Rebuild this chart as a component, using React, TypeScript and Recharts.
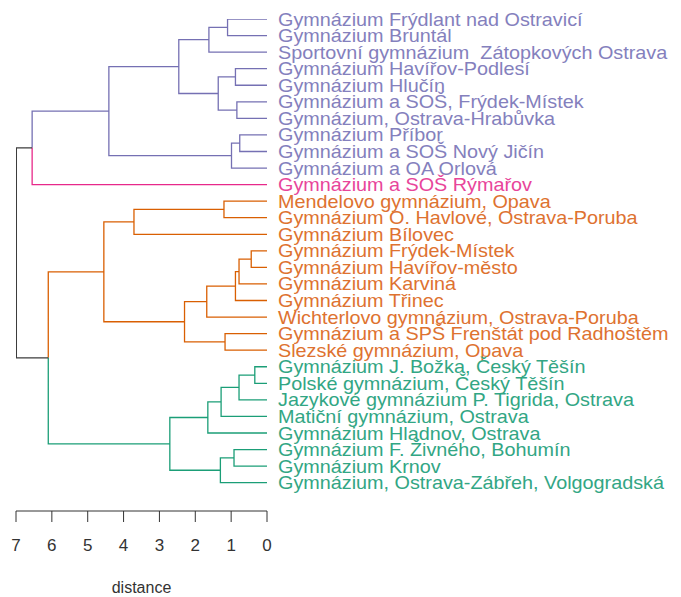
import { ComposedChart, Line, XAxis, YAxis } from "recharts"

const leafNames = [
  "Gymnázium Frýdlant nad Ostravicí",
  "Gymnázium Bruntál",
  "Sportovní gymnázium  Zátopkových Ostrava",
  "Gymnázium Havířov-Podlesí",
  "Gymnázium Hlučín",
  "Gymnázium a SOŠ, Frýdek-Místek",
  "Gymnázium, Ostrava-Hrabůvka",
  "Gymnázium Příbor",
  "Gymnázium a SOŠ Nový Jičín",
  "Gymnázium a OA Orlová",
  "Gymnázium a SOŠ Rýmařov",
  "Mendelovo gymnázium, Opava",
  "Gymnázium O. Havlové, Ostrava-Poruba",
  "Gymnázium Bílovec",
  "Gymnázium Frýdek-Místek",
  "Gymnázium Havířov-město",
  "Gymnázium Karviná",
  "Gymnázium Třinec",
  "Wichterlovo gymnázium, Ostrava-Poruba",
  "Gymnázium a SPŠ Frenštát pod Radhoštěm",
  "Slezské gymnázium, Opava",
  "Gymnázium J. Božka, Český Těšín",
  "Polské gymnázium, Český Těšín",
  "Jazykové gymnázium P. Tigrida, Ostrava",
  "Matiční gymnázium, Ostrava",
  "Gymnázium Hladnov, Ostrava",
  "Gymnázium F. Živného, Bohumín",
  "Gymnázium Krnov",
  "Gymnázium, Ostrava-Zábřeh, Volgogradská",
]

// cluster of each leaf: 0 purple, 1 pink, 2 orange, 3 green
const leafGroups = [0, 0, 0, 0, 0, 0, 0, 0, 0, 0, 1, 2, 2, 2, 2, 2, 2, 2, 2, 2, 2, 3, 3, 3, 3, 3, 3, 3, 3]

const lineColors = ["#7570B3", "#E7298A", "#D95F02", "#1B9E77"]
const labelColors = ["#8480BD", "#E8459A", "#DE7230", "#32A684"]
const rootColor = "#3c3c3c"

// hclust style: negative = leaf (1-based), positive = earlier merge (1-based)
const mergeLeft = [-1, 1, -4, -6, 3, 2, -8, 7, 6, 9, -12, 11, -15, 13, 14, 15, -20, 16, 12, -22, 20, 21, 22, -27, 24, 23, 19, 10]
const mergeRight = [-2, -3, -5, -7, 4, 5, -9, -10, 8, -11, -13, -14, -16, -17, -18, -19, -21, 17, 18, -23, -24, -25, -26, -28, -29, 25, 26, 27]
const mergeHeight = [
  1.1, 1.62, 0.88, 0.84, 1.36, 2.46, 0.76, 0.99, 4.41, 6.55,
  1.2, 3.71, 0.44, 0.78, 0.88, 1.68, 1.17, 2.3, 4.55,
  0.34, 0.78, 1.28, 1.65, 0.92, 1.3, 2.71, 6.1, 6.99,
]

const distanceTicks = [0, 1, 2, 3, 4, 5, 6, 7]

type Node = { h: number; y: number; group: number }
type Pt = { x: number; y: number | null }

const nodes: Node[] = []
const series: Pt[][] = [[], [], [], [], []] // last one = root (mixed)

const pick = (id: number): Node =>
  id < 0 ? { h: 0, y: -id - 1, group: leafGroups[-id - 1] } : nodes[id - 1]

mergeLeft.forEach((l, k) => {
  const a = pick(l)
  const b = pick(mergeRight[k])
  const h = mergeHeight[k]
  const y = (a.y + b.y) / 2
  for (const c of [a, b]) {
    const s = series[c.group < 0 ? 4 : c.group]
    s.push({ x: h, y }, { x: h, y: c.y }, { x: c.h, y: c.y }, { x: c.h, y: null })
  }
  nodes.push({ h, y, group: a.group === b.group ? a.group : -1 })
})

const font = "'Liberation Sans', Arial, sans-serif"

function LeafLabel(props: any) {
  const { x, y, payload } = props
  const i = payload.value as number
  return (
    <text
      transform={`translate(${x},${y + 6.5}) scale(1.1,1)`}
      fill={labelColors[leafGroups[i]]}
      fontSize={18}
      fontFamily={font}
      style={{ whiteSpace: "pre" }}
    >
      {leafNames[i]}
    </text>
  )
}

export default function App() {
  return (
    <div style={{ width: 673, height: 589 }}>
      <ComposedChart width={673} height={589} margin={{ top: 11, right: 0, bottom: 0, left: 8 }}>
        <XAxis
          type="number"
          dataKey="x"
          domain={[0, 7]}
          reversed
          allowDataOverflow
          ticks={distanceTicks}
          height={86}
          tickSize={11}
          tickMargin={17}
          stroke="#333"
          tick={{ fill: "#333", fontSize: 17, fontFamily: font }}
          label={{ value: "distance", position: "insideBottom", offset: 4, fill: "#333", fontSize: 16, fontFamily: font }}
        />
        <YAxis
          type="number"
          orientation="right"
          domain={[0, 29.71]}
          reversed
          allowDataOverflow
          ticks={leafNames.map((_, i) => i)}
          interval={0}
          width={414}
          tickSize={0}
          tickMargin={11}
          axisLine={false}
          tickLine={false}
          tick={<LeafLabel />}
        />
        {series.map((pts, g) => (
          <Line
            key={g}
            data={pts}
            dataKey="y"
            type="linear"
            stroke={g === 4 ? rootColor : lineColors[g]}
            strokeWidth={1.3}
            dot={false}
            activeDot={false}
            connectNulls={false}
            isAnimationActive={false}
          />
        ))}
      </ComposedChart>
    </div>
  )
}
